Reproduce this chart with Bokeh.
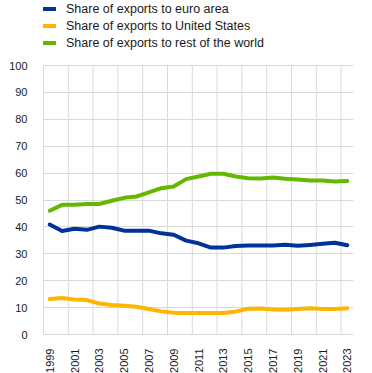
import math
from bokeh.plotting import figure
from bokeh.models import Range1d, FixedTicker, Legend, LegendItem
from bokeh.embed import file_html
from bokeh.resources import INLINE

years = list(range(1999, 2024))
euro_area = [40.9, 38.5, 39.3, 38.9, 40.1, 39.7, 38.6, 38.6, 38.6, 37.6, 37.1, 34.9, 33.9,
             32.3, 32.3, 32.9, 33.1, 33.1, 33.1, 33.4, 33.0, 33.3, 33.7, 34.1, 33.2]
united_states = [13.2, 13.6, 13.0, 12.8, 11.5, 11.0, 10.7, 10.3, 9.5, 8.6, 8.1, 8.0, 8.0,
                 8.0, 8.0, 8.5, 9.6, 9.7, 9.3, 9.2, 9.5, 9.8, 9.5, 9.5, 9.8]
rest_of_world = [46.0, 48.2, 48.2, 48.5, 48.5, 49.7, 50.8, 51.3, 52.8, 54.4, 55.0, 57.75, 58.75,
                 59.75, 59.75, 58.75, 58.1, 58.0, 58.4, 57.9, 57.6, 57.25, 57.25, 56.9, 57.1]
series_labels = ["Share of exports to euro area", "Share of exports to United States",
                 "Share of exports to rest of the world"]
x_tick_labels = list(range(1999, 2024, 2))
y_ticks = list(range(0, 101, 10))

colors = ["#003299", "#FFB400", "#65B800"]
FONT = "Liberation Sans"
TEXT = "#1a1a1a"
GRID = "#d9d9d9"

FRAME_H = 334
PLOT_H = 269  # pixels spanned by 0..100
y_top = 100.0 * FRAME_H / PLOT_H

p = figure(frame_width=310, frame_height=FRAME_H, min_border_left=43, min_border_right=19,
           min_border_top=0, min_border_bottom=39, output_backend="svg",
           toolbar_location=None, x_range=Range1d(1998.5, 2023.5), y_range=Range1d(0, y_top))
p.outline_line_color = None
p.background_fill_color = "white"
p.border_fill_color = "white"

# vertical grid lines between category pairs, limited to the 0..100 band
grid_x = [y + 0.5 for y in range(2000, 2023, 2)]
p.segment(x0=grid_x, y0=[0] * len(grid_x), x1=grid_x, y1=[100] * len(grid_x),
          line_color=GRID, line_width=1)
p.xgrid.visible = False
p.ygrid.grid_line_color = GRID
p.ygrid.ticker = FixedTicker(ticks=y_ticks)

renderers = []
for vals, c in zip([euro_area, united_states, rest_of_world], colors):
    r = p.line(years, vals, line_color=c, line_width=4, line_join="round", line_cap="round")
    renderers.append(r)

p.xaxis.ticker = FixedTicker(ticks=x_tick_labels)
p.xaxis.major_label_orientation = math.pi / 2
p.yaxis.ticker = FixedTicker(ticks=y_ticks)
p.yaxis.bounds = (0, 100)
for ax in [p.xaxis[0], p.yaxis[0]]:
    ax.major_tick_line_color = None
    ax.minor_tick_line_color = None
    ax.axis_line_color = GRID
    ax.major_label_text_font = FONT
    ax.major_label_text_font_size = "11px"
    ax.major_label_text_color = TEXT
p.xaxis.major_label_standoff = 8
p.yaxis.major_label_standoff = 10

legend = Legend(items=[LegendItem(label=l, renderers=[r]) for l, r in zip(series_labels, renderers)],
                location=(0, FRAME_H - 51), orientation="vertical", padding=0, margin=0, spacing=0,
                glyph_height=17, label_height=17, glyph_width=13, label_standoff=10,
                label_text_font=FONT, label_text_font_size="12.5px", label_text_color=TEXT,
                border_line_color=None, background_fill_alpha=0)
p.add_layout(legend, "center")

open("out.html", "w").write(file_html(p, INLINE))
